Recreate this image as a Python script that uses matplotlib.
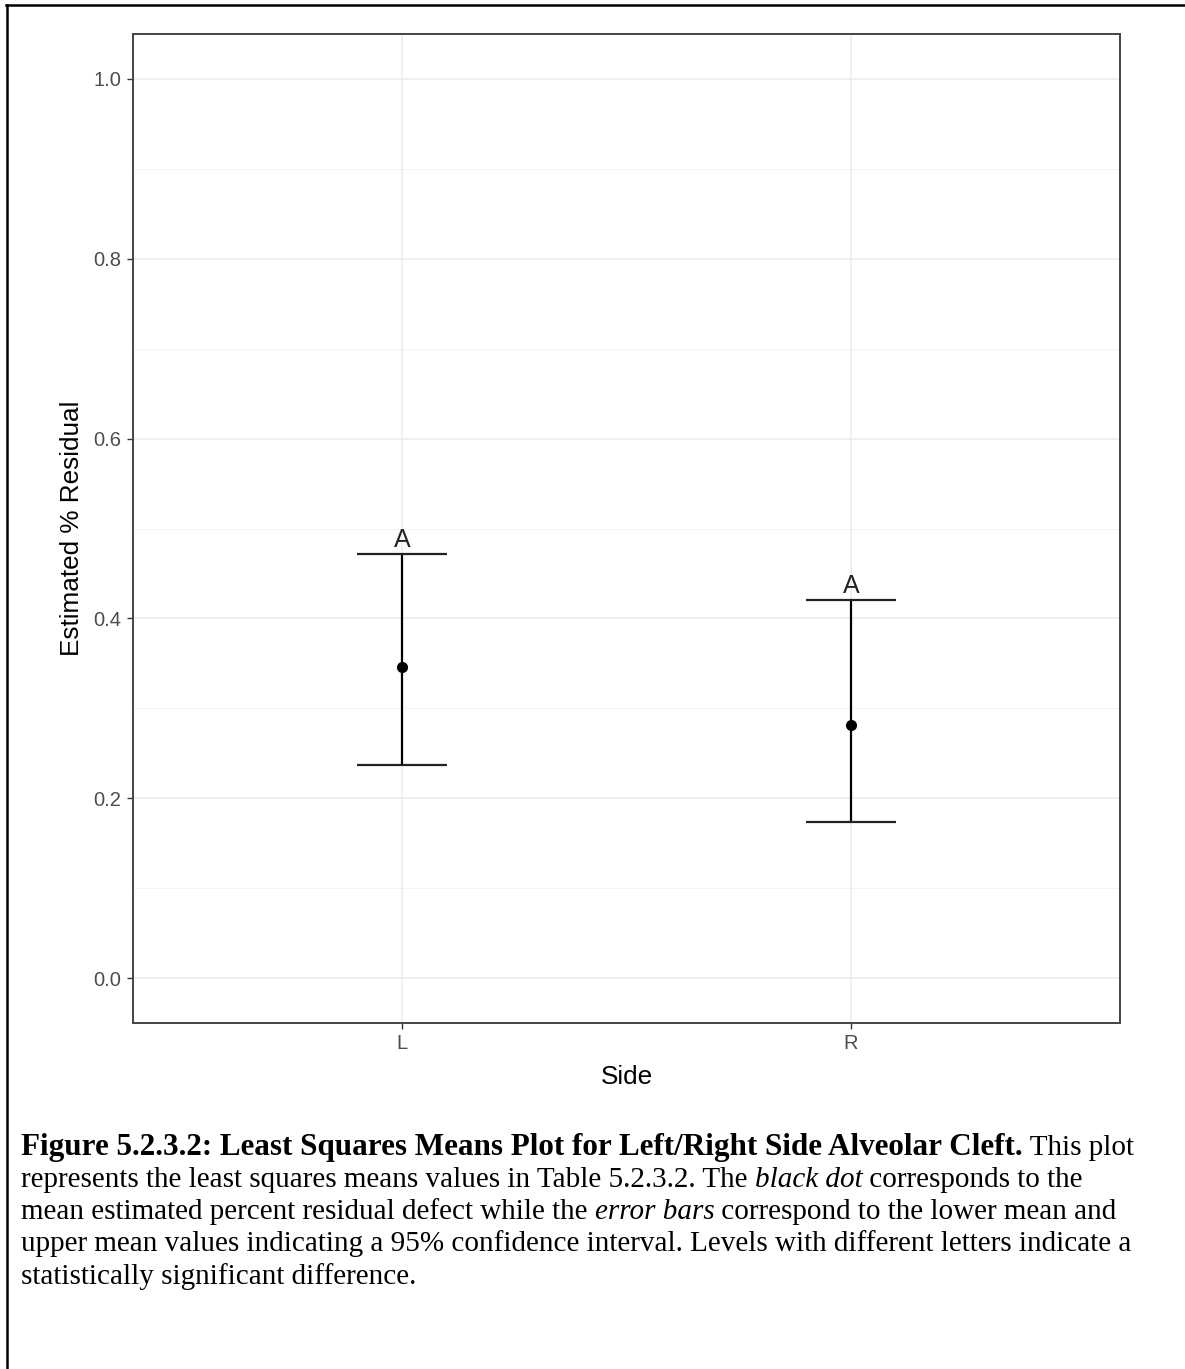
import matplotlib
matplotlib.use("Agg")
import matplotlib.pyplot as plt
from matplotlib.lines import Line2D

# ---- data ----
sides = ["L", "R"]
lsmean = [0.346, 0.281]
lower_cl = [0.237, 0.174]
upper_cl = [0.472, 0.421]
letters = ["A", "A"]
y_ticks = [0.0, 0.2, 0.4, 0.6, 0.8, 1.0]
y_minor = [0.1, 0.3, 0.5, 0.7, 0.9]

W, H = 1185, 1369
DPI = 100
fig = plt.figure(figsize=(W / DPI, H / DPI), dpi=DPI)
fig.patch.set_facecolor("white")

SANS = ["Liberation Sans", "DejaVu Sans"]
SERIF = ["Liberation Serif", "DejaVu Serif"]

# panel
pl, pr, pt, pb = 133, 1120, 34, 1023
ax = fig.add_axes([pl / W, 1 - pb / H, (pr - pl) / W, (pb - pt) / H])
ax.set_facecolor("white")

xpos = list(range(1, len(sides) + 1))
ax.set_xlim(0.4, len(sides) + 0.6)
ax.set_ylim(-0.05, 1.05)

# grid
for v in y_ticks:
    ax.axhline(v, color="#EBEBEB", lw=1.1, zorder=0)
for v in y_minor:
    ax.axhline(v, color="#F2F2F2", lw=0.6, zorder=0)
for v in xpos:
    ax.axvline(v, color="#EBEBEB", lw=1.1, zorder=0)

# error bars
cap = 0.1
ax.vlines(xpos, lower_cl, upper_cl, color="black", lw=1.6, zorder=3)
ax.hlines(upper_cl, [x - cap for x in xpos], [x + cap for x in xpos], color="#222222", lw=1.6, zorder=3)
ax.hlines(lower_cl, [x - cap for x in xpos], [x + cap for x in xpos], color="#222222", lw=1.6, zorder=3)
ax.plot(xpos, lsmean, "o", color="black", ms=7, zorder=4)

for x, u, t in zip(xpos, upper_cl, letters):
    ax.annotate(t, (x, u), xytext=(0, 5), textcoords="offset points",
                ha="center", va="baseline", fontsize=18, family=SANS, color="#222222")

ax.set_xticks(xpos)
ax.set_xticklabels(sides)
ax.set_yticks(y_ticks)
ax.set_yticklabels([f"{v:.1f}" for v in y_ticks])
ax.tick_params(axis="both", length=4.6, width=1.0, color="#333333", labelcolor="#4D4D4D",
               labelsize=14.5, pad=3.6)
for lab in ax.get_xticklabels() + ax.get_yticklabels():
    lab.set_family(SANS)

for s in ax.spines.values():
    s.set_color("#444444")
    s.set_linewidth(1.4)

ax.set_ylabel("Estimated % Residual", fontsize=18.8, family=SANS, color="black")
ax.yaxis.set_label_coords((84 - pl) / (pr - pl), 0.5)
ax.set_xlabel("Side", fontsize=18.8, family=SANS, color="black", labelpad=8)

# outer frame (left and top lines)
fig.add_artist(Line2D([7 / W, 7 / W], [0, 1 - 5 / H], transform=fig.transFigure, color="black", lw=1.8))
fig.add_artist(Line2D([6 / W, 1], [1 - 5 / H, 1 - 5 / H], transform=fig.transFigure, color="black", lw=1.8))

# caption
cap_lines = [
    [("Figure 5.2.3.2: Least Squares Means Plot for Left/Right Side Alveolar Cleft.", "bold", "normal"),
     (" This plot", "normal", "normal")],
    [("represents the least squares means values in Table 5.2.3.2. The ", "normal", "normal"),
     ("black dot", "normal", "italic"),
     (" corresponds to the", "normal", "normal")],
    [("mean estimated percent residual defect while the ", "normal", "normal"),
     ("error bars", "normal", "italic"),
     (" correspond to the lower mean and", "normal", "normal")],
    [("upper mean values indicating a 95% confidence interval. Levels with different letters indicate a", "normal", "normal")],
    [("statistically significant difference.", "normal", "normal")],
]
baselines = [1155, 1187, 1219, 1251, 1284]
fs_reg = 21.0
fs_bold = 22.4
renderer = fig.canvas.get_renderer()
for segs, bl in zip(cap_lines, baselines):
    x = 21
    for text, weight, style in segs:
        fs = fs_bold if weight == "bold" else fs_reg
        t = fig.text(x / W, 1 - bl / H, text, fontsize=fs, family=SERIF, weight=weight,
                     style=style, va="baseline", ha="left", color="black")
        bb = t.get_window_extent(renderer=renderer)
        x += bb.width

fig.savefig("out.png", dpi=DPI, facecolor="white")
